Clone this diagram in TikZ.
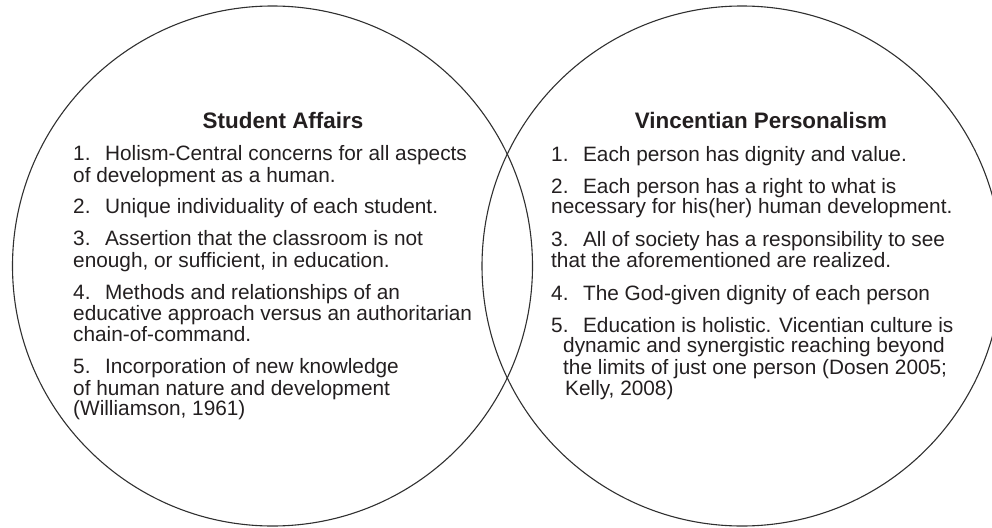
\documentclass[tikz,border=0pt]{standalone}
\usepackage{fontspec}
\setmainfont{Liberation Sans}
\definecolor{ink}{HTML}{231F20}
\definecolor{rim}{HTML}{303030}
\tikzset{
  body/.style={anchor=base west, inner sep=0pt, text=ink, font=\fontsize{20.8}{24}\selectfont},
  head/.style={anchor=base, inner sep=0pt, text=ink, font=\bfseries\fontsize{22.4}{26}\selectfont},
  ring/.style={circle, draw=rim, line width=1.1pt, minimum size=520pt, inner sep=0pt}
}
\newcommand{\gap}{\hspace{0.7em}}
\begin{document}
\begin{tikzpicture}[x=1pt,y=-1pt]
\useasboundingbox (0,0) rectangle (992,527);
\node[ring] (L) at (272.5,266) {};
\node[ring] (R) at (742,266) {};
% left
\node[head] (lh) at (283,128) {Student Affairs};
\node[body] (l1a) at (73,160) {1.\gap Holism-Central concerns for all aspects};
\node[body] (l1b) at (73,182) {of development as a human.};
\node[body] (l2a) at (73,213) {2.\gap Unique individuality of each student.};
\node[body] (l3a) at (73,245) {3.\gap Assertion that the classroom is not};
\node[body] (l3b) at (73,267) {enough, or sufficient, in education.};
\node[body] (l4a) at (73,299) {4.\gap Methods and relationships of an};
\node[body] (l4b) at (73,320) {educative approach versus an authoritarian};
\node[body] (l4c) at (73,341) {chain-of-command.};
\node[body] (l5a) at (73,373) {5.\gap Incorporation of new knowledge};
\node[body] (l5b) at (73,395) {of human nature and development};
\node[body] (l5c) at (73,415) {(Williamson, 1961)};
% right
\node[head] (rh) at (761,128) {Vincentian Personalism};
\node[body] (r1a) at (551,161) {1.\gap Each person has dignity and value.};
\node[body] (r2a) at (551,193) {2.\gap Each person has a right to what is};
\node[body] (r2b) at (551,213) {necessary for his(her) human development.};
\node[body] (r3a) at (551,246) {3.\gap All of society has a responsibility to see};
\node[body] (r3b) at (551,267) {that the aforementioned are realized.};
\node[body] (r4a) at (551,300) {4.\gap The God-given dignity of each person};
\node[body] (r5a) at (551,332) {5.\gap Education is holistic. Vicentian culture is};
\node[body] (r5b) at (563,352) {dynamic and synergistic reaching beyond};
\node[body] (r5c) at (563,374) {the limits of just one person (Dosen 2005;};
\node[body] (r5d) at (565,395) {Kelly, 2008)};
\end{tikzpicture}
\end{document}
